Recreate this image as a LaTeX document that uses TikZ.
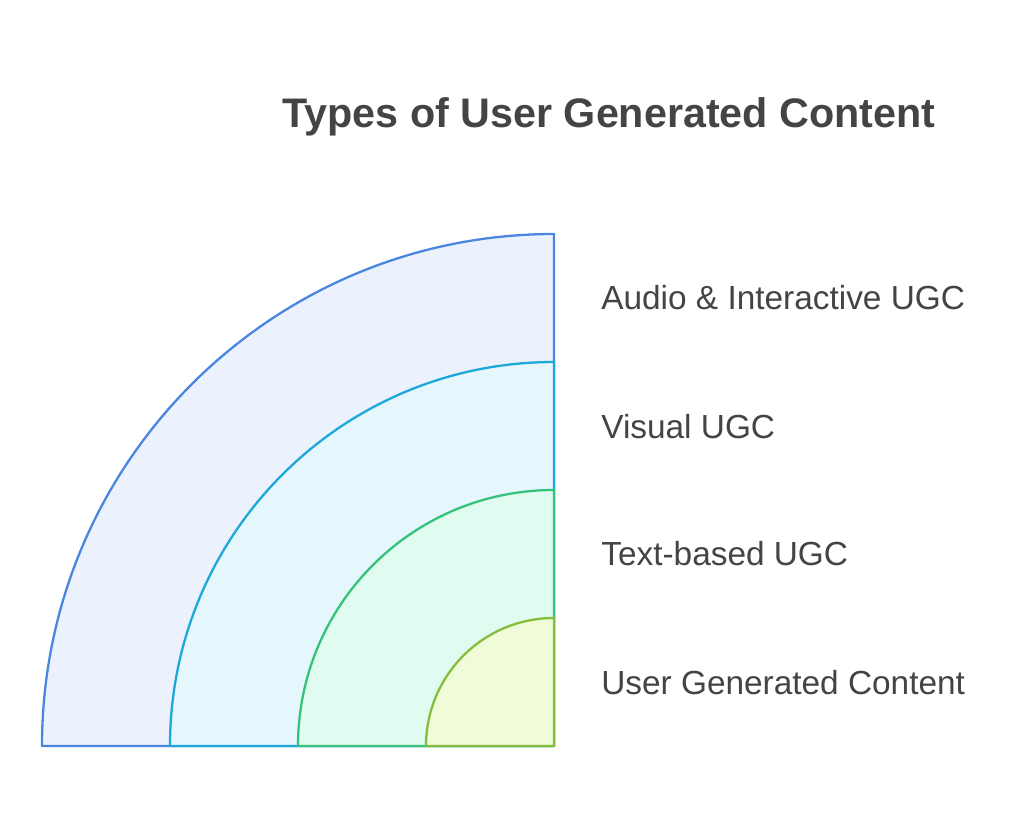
\documentclass[tikz,border=0pt]{standalone}
\usepackage{fontspec}
\setmainfont{Liberation Sans}
\usepackage{xcolor}
\definecolor{txtgray}{HTML}{444444}
\definecolor{ringA}{HTML}{4A86E0}
\definecolor{fillA}{HTML}{ECF2FD}
\definecolor{ringB}{HTML}{1CA8D8}
\definecolor{fillB}{HTML}{E6F6FD}
\definecolor{ringC}{HTML}{35C27A}
\definecolor{fillC}{HTML}{E0FBEF}
\definecolor{ringD}{HTML}{86BD3A}
\definecolor{fillD}{HTML}{F0FBD8}
\tikzset{
  ring/.style={line width=1.3pt, line join=round},
  label/.style={anchor=west, inner sep=0pt, text=txtgray, font=\fontsize{19}{22}\selectfont},
}
\begin{document}
\begin{tikzpicture}[x=0.02cm,y=-0.02cm]
      \useasboundingbox (0,0) rectangle (1024,832);

      % Title
      \node[text=txtgray, font=\fontsize{23.5}{27}\selectfont\bfseries] (title) at (609,117) {Types of User Generated Content};

      % Quarter rings, outer first
      \coordinate (O) at (554,746);
      \foreach \r/\c in {512/A,384/B,256/C,128/D}
      {
        \filldraw[ring, draw=ring\c, fill=fill\c] (O) -- ++(-\r,0) arc[start angle=180, end angle=90, radius=\r*0.02cm] -- cycle;
      }

      % Labels
      \node[label] (audio) at (601,298) {Audio \& Interactive UGC};
      \node[label] (visual) at (601,427) {Visual UGC};
      \node[label] (text) at (601,554) {Text-based UGC};
      \node[label] (ugc) at (601,683) {User Generated Content};
  \end{tikzpicture}
\end{document}
